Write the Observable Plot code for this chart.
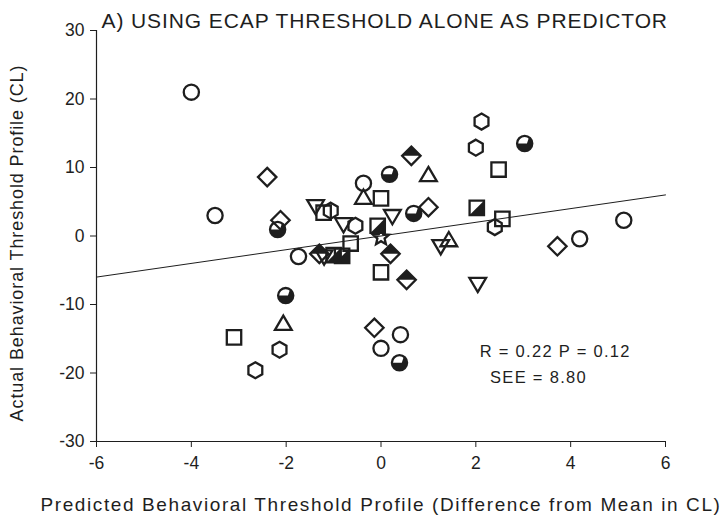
<!DOCTYPE html>
<html>
<head>
<meta charset="utf-8">
<script src="https://cdn.jsdelivr.net/npm/d3@7"></script>
<script src="https://cdn.jsdelivr.net/npm/@observablehq/plot@0.6"></script>
<style>
  body { margin: 0; background: #fff; }
  #chart svg { display: block; }
  #chart svg g[aria-label^="x-axis"], #chart svg g[aria-label^="y-axis"] { font-size: 17.5px; }
</style>
</head>
<body>
<div id="chart"></div>
<script>
// Predicted vs actual behavioral threshold profile, one array of [predicted, actual] per marker type
const openCircles = [[-4.0, 21.0], [-3.5, 3.0], [-1.74, -3.0], [-0.37, 7.7], [4.19, -0.4], [5.12, 2.3], [0.41, -14.4], [0.0, -16.4]];
const halfCircles = [[-2.18, 0.95], [-2.01, -8.7], [0.18, 9.0], [3.03, 13.5], [0.69, 3.3], [0.39, -18.5]];
const openDiamonds = [[-2.4, 8.6], [-2.12, 2.3], [1.0, 4.2], [3.72, -1.5], [-0.14, -13.4]];
const halfDiamonds = [[0.64, 11.7], [0.2, -2.6], [0.54, -6.4], [-1.3, -2.6]];
const openSquares = [[-3.1, -14.8], [-1.21, 3.4], [0.0, 5.5], [-0.64, -1.1], [0.0, -5.3], [2.48, 9.7], [2.56, 2.5]];
const halfSquares = [[-0.07, 1.5], [2.02, 4.1], [-1.0, -2.8], [-0.82, -2.9]];
const trianglesUp = [[-2.06, -12.9], [-0.37, 5.5], [1.0, 8.8], [1.43, -0.7]];
const trianglesDown = [[-1.38, 4.45], [-0.79, 1.8], [0.24, 3.0], [1.26, -1.4], [2.04, -6.9], [-1.2, -2.9]];
const hexagons = [[-2.14, -16.6], [-2.65, -19.6], [-1.06, 3.7], [-0.54, 1.5], [2.0, 12.9], [2.12, 16.7], [2.4, 1.3]];
const stars = [[0.0, -0.2]];

// Fitted line end points
const fitX = [-6, 6];
const fitY = [-6, 6];

const xTicks = [-6, -4, -2, 0, 2, 4, 6];
const yTicks = [-30, -20, -10, 0, 10, 20, 30];

const title = "A) USING ECAP THRESHOLD ALONE AS PREDICTOR";
const xLabel = "Predicted Behavioral Threshold Profile (Difference from Mean in CL)";
const yLabel = "Actual Behavioral Threshold Profile (CL)";
const stats = ["R = 0.22 P = 0.12", "SEE = 8.80"];

const ink = "#1e1e1e";
const deg = Math.PI / 180;

// Custom symbols; Plot passes size = r² π, so r is recovered from it
const rad = size => Math.sqrt(size / Math.PI);
const sym = {
  circle: {draw(c, s) { const r = rad(s) * 0.95; c.moveTo(r, 0); c.arc(0, 0, r, 0, 2 * Math.PI); c.closePath(); }},
  circleFill: {draw(c, s) {
    const r = rad(s) * 0.95;
    c.moveTo(-r, 0); c.lineTo(r * 0.3, 0);
    c.lineTo(r * Math.cos(-55 * deg), r * Math.sin(-55 * deg));
    c.arc(0, 0, r, -55 * deg, 180 * deg); c.closePath();
  }},
  square: {draw(c, s) { const h = rad(s) * 0.9; c.moveTo(-h, -h); c.lineTo(h, -h); c.lineTo(h, h); c.lineTo(-h, h); c.closePath(); }},
  squareFill: {draw(c, s) { const h = rad(s) * 0.9; c.moveTo(h, -h); c.lineTo(h, h); c.lineTo(-h, h); c.closePath(); }},
  diamond: {draw(c, s) { const d = rad(s) * 1.15; c.moveTo(0, -d); c.lineTo(d, 0); c.lineTo(0, d); c.lineTo(-d, 0); c.closePath(); }},
  diamondFill: {draw(c, s) { const d = rad(s) * 1.15; c.moveTo(0, -d); c.lineTo(d, 0); c.lineTo(-d, 0); c.closePath(); }},
  triUp: {draw(c, s) { const r = rad(s) * 1.1; c.moveTo(0, -r); c.lineTo(r * 0.95, r * 0.62); c.lineTo(-r * 0.95, r * 0.62); c.closePath(); }},
  triDown: {draw(c, s) { const r = rad(s) * 1.1; c.moveTo(0, r); c.lineTo(r * 0.95, -r * 0.62); c.lineTo(-r * 0.95, -r * 0.62); c.closePath(); }},
  hexagon: {draw(c, s) {
    const r = rad(s);
    for (let i = 0; i < 6; i++) {
      const a = (-90 + 60 * i) * deg;
      if (i === 0) c.moveTo(r * Math.cos(a), r * Math.sin(a)); else c.lineTo(r * Math.cos(a), r * Math.sin(a));
    }
    c.closePath();
  }},
  star: {draw(c, s) {
    const r = rad(s) * 1.05, ri = r * 0.45;
    for (let i = 0; i < 10; i++) {
      const a = (-90 + 36 * i) * deg, rr = i % 2 ? ri : r;
      if (i === 0) c.moveTo(rr * Math.cos(a), rr * Math.sin(a)); else c.lineTo(rr * Math.cos(a), rr * Math.sin(a));
    }
    c.closePath();
  }}
};

const R = 8;
const outline = (data, symbol) => Plot.dot(data, {x: d => d[0], y: d => d[1], r: R, symbol, fill: "none", stroke: ink, strokeWidth: 2.3});
const solid = (data, symbol) => Plot.dot(data, {x: d => d[0], y: d => d[1], r: R, symbol, fill: ink, stroke: "none"});

const chart = Plot.plot({
  width: 724,
  height: 526,
  marginLeft: 96,
  marginRight: 59,
  marginTop: 30,
  marginBottom: 85,
  style: {fontFamily: "Liberation Sans, Arial, sans-serif", fontSize: "17.5px", color: ink, background: "#fff"},
  x: {domain: [-6, 6], ticks: xTicks, tickSize: 6, tickPadding: 9, tickFormat: d => String(d), label: null},
  y: {domain: [-30, 30], ticks: yTicks, tickSize: 6, tickPadding: 6, tickFormat: d => String(d), label: null},
  marks: [
    Plot.ruleX([-6], {y1: -30, y2: 30, stroke: ink, strokeWidth: 1.2}),
    Plot.ruleY([-30], {x1: -6, x2: 6, stroke: ink, strokeWidth: 1.2}),
    Plot.line(fitX.map((x, i) => [x, fitY[i]]), {x: d => d[0], y: d => d[1], stroke: ink, strokeWidth: 1}),
    outline(openCircles, sym.circle),
    solid(halfCircles, sym.circleFill),
    outline(halfCircles, sym.circle),
    outline(openDiamonds, sym.diamond),
    solid(halfDiamonds, sym.diamondFill),
    outline(halfDiamonds, sym.diamond),
    outline(openSquares, sym.square),
    solid(halfSquares, sym.squareFill),
    outline(halfSquares, sym.square),
    outline(trianglesUp, sym.triUp),
    outline(trianglesDown, sym.triDown),
    outline(hexagons, sym.hexagon),
    outline(stars, sym.star),
    Plot.text([stats[0]], {x: 2.08, y: -16.9, textAnchor: "start", fill: ink, fontSize: 16.5}),
    Plot.text([stats[1]], {x: 2.3, y: -20.7, textAnchor: "start", fill: ink, fontSize: 16.5}),
    Plot.text([title], {frameAnchor: "top-left", dx: 5, dy: -17, textAnchor: "start", fill: ink, fontSize: 21}),
    Plot.text([yLabel], {frameAnchor: "left", dx: -79, dy: 7, rotate: -90, textAnchor: "middle", fill: ink, fontSize: 18}),
    Plot.text([xLabel], {frameAnchor: "bottom", dy: 69, textAnchor: "middle", fill: ink, fontSize: 19})
  ]
});

// Widen the tracking of the annotation and title texts
const spacing = new Map([[title, "0.9px"], [xLabel, "1.6px"], [yLabel, "0.9px"], [stats[0], "1.3px"], [stats[1], "1.3px"]]);
d3.select(chart).selectAll("text").each(function () {
  const ls = spacing.get(this.textContent);
  if (ls) this.setAttribute("letter-spacing", ls);
});

document.getElementById("chart").append(chart);
</script>
</body>
</html>
